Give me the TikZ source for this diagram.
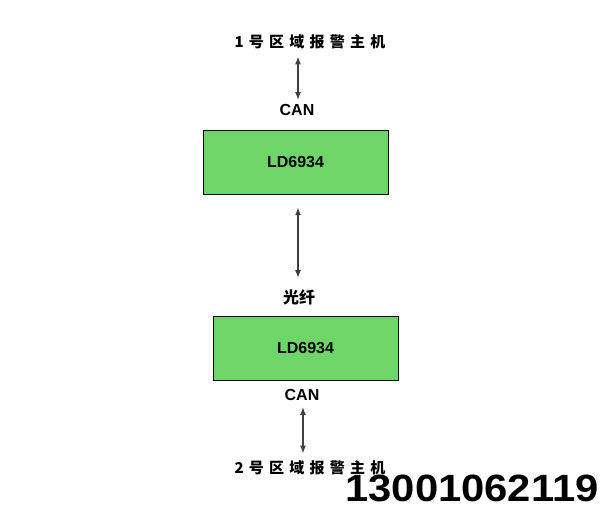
\documentclass[tikz,border=0pt]{standalone}
\usepackage{fontspec}
\setmainfont{Liberation Sans}
\newfontfamily\cjk{Noto Sans CJK SC}
\newfontfamily\cjkwide[LetterSpace=35]{Noto Sans CJK SC}
\usepackage{tikz}
\definecolor{boxgreen}{RGB}{110,214,104}
\begin{document}
\begin{tikzpicture}[x=1pt,y=-1pt]
\tikzset{unit/.style={draw=black, fill=boxgreen, minimum width=185pt, minimum height=64pt, font=\bfseries\fontsize{16}{18}\selectfont},
  lbl/.style={font=\bfseries\fontsize{16}{18}\selectfont, inner sep=1pt},
  host/.style={font=\cjkwide\bfseries\fontsize{15}{17}\selectfont, inner sep=1pt},
  link/.style={<->, >={Latex[length=8pt,width=6pt]}, line width=1.5pt, black!75}}
\usetikzlibrary{arrows.meta}
\useasboundingbox (0,0) rectangle (610,512);

\node [host] (h1) at (310,42) {1号区域报警主机};
\node [lbl] (can1) at (297,110) {CAN};
\node [unit] (ld1) at (295.5,162) {LD6934};
\node [lbl] (fiber) at (299,297) {\cjk 光纤};
\node [unit] (ld2) at (305.5,348) {LD6934};
\node [lbl] (can2) at (302,395) {CAN};
\node [host] (h2) at (310,468) {2号区域报警主机};
\node [font=\bfseries\fontsize{38}{42}\selectfont, inner sep=0pt, xscale=1.1] (tel) at (472,488) {13001062119};

\draw [link] ([yshift=-6pt]h1.south -| 298,0) -- ([yshift=3pt]can1.north -| 298,0);
\draw [link] ([yshift=-13pt]ld1.south -| 298,0) -- ([yshift=10pt]fiber.north -| 298,0);
\draw [link] ([yshift=-5pt]can2.south -| 303,0) -- ([yshift=6pt]h2.north -| 303,0);
\end{tikzpicture}
\end{document}
